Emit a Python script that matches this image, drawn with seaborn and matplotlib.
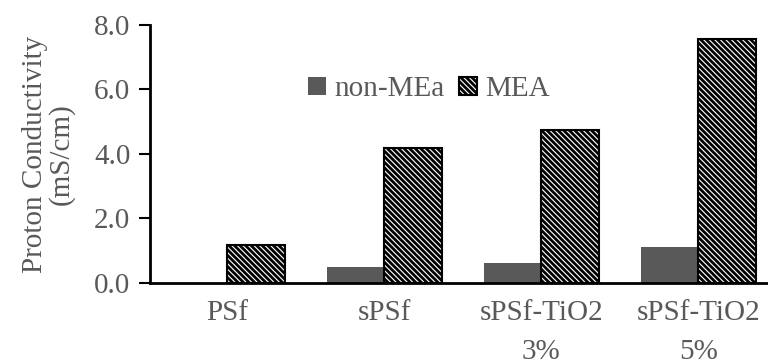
import matplotlib
matplotlib.use("Agg")
import matplotlib.pyplot as plt
import pandas as pd
import seaborn as sns

# Data
categories = ["PSf", "sPSf", "sPSf-TiO2\n3%", "sPSf-TiO2\n5%"]
non_mea = [0.0, 0.51, 0.63, 1.11]
mea = [1.18, 4.18, 4.74, 7.56]
series_names = ["non-MEa", "MEA"]
y_ticks = [0.0, 2.0, 4.0, 6.0, 8.0]

TEXT_GRAY = "#595959"
FS = 21

df = pd.DataFrame({
    "material": categories * 2,
    "series": [series_names[0]] * len(categories) + [series_names[1]] * len(categories),
    "value": non_mea + mea,
})

sns.set_style("white")
plt.rcParams["font.family"] = ["Liberation Serif", "DejaVu Serif"]
plt.rcParams["hatch.linewidth"] = 2.0
plt.rcParams["hatch.color"] = "black"

fig = plt.figure(figsize=(7.68, 3.6), dpi=100)
ax = fig.add_axes([0.195, 0.214, 0.805, 0.717])

sns.barplot(
    data=df, x="material", y="value", hue="series",
    palette={"non-MEa": TEXT_GRAY, "MEA": "white"},
    width=0.73, gap=0, ax=ax, legend=False,
)

# non-MEa bars: flat dark gray, MEA bars: dense black hatch with black edge
for patch in ax.containers[0]:
    patch.set_edgecolor("none")
for patch in ax.containers[1]:
    patch.set_hatch("\\" * 6)
    patch.set_edgecolor("black")
    patch.set_linewidth(1.5)

ax.set_ylim(0, 8)
ax.set_xlim(-0.495, 3.444)
ax.set_yticks(y_ticks)
ax.set_yticklabels([f"{t:.1f}" for t in y_ticks], fontsize=FS, color=TEXT_GRAY)
ax.set_xticks(range(len(categories)))
ax.set_xticklabels(categories, fontsize=FS, color=TEXT_GRAY, linespacing=1.65)
ax.tick_params(axis="x", length=0, pad=12)
ax.tick_params(axis="y", length=8, width=1.5, color="black", direction="out", left=True, pad=6)

ax.set_xlabel("")
ax.set_ylabel("Proton Conductivity\n(mS/cm)", fontsize=FS, color=TEXT_GRAY,
              linespacing=1.0, labelpad=14)

for side in ["top", "right"]:
    ax.spines[side].set_visible(False)
for side in ["left", "bottom"]:
    ax.spines[side].set_color("black")
    ax.spines[side].set_linewidth(2)

handles = [ax.containers[0][0], ax.containers[1][0]]
fig.legend(
    handles, series_names, loc="center", bbox_to_anchor=(0.559, 0.752),
    ncol=2, frameon=False, fontsize=FS, labelcolor=TEXT_GRAY,
    handlelength=0.6, handleheight=0.6, handletextpad=0.3, columnspacing=0.5,
)

fig.savefig("out.png", dpi=100)
plt.close(fig)
